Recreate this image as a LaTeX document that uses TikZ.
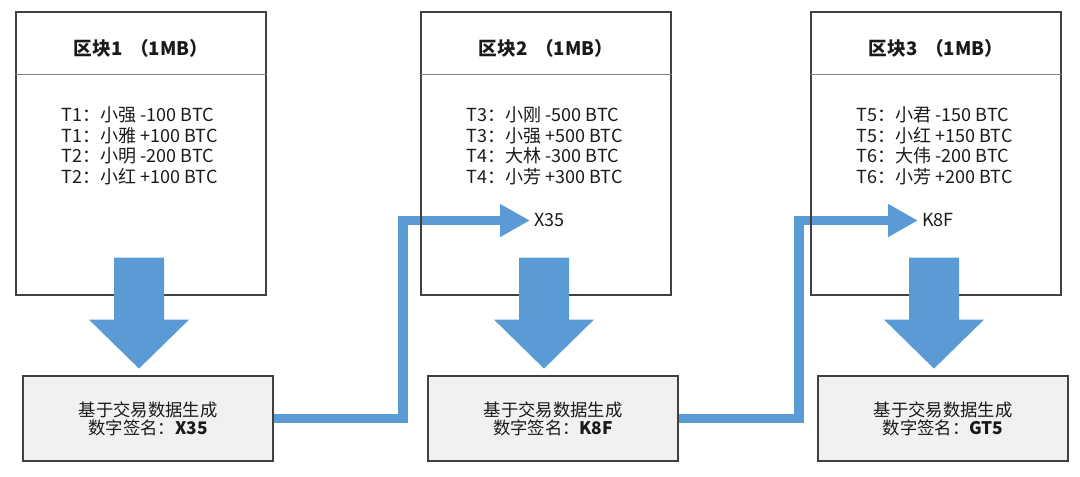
\documentclass[tikz,border=0pt]{standalone}
\usepackage{fontspec}
\setmainfont{Noto Sans CJK SC}
\usetikzlibrary{arrows.meta,calc}

\definecolor{arrblue}{HTML}{5B9BD5}
\definecolor{boxline}{HTML}{404040}
\definecolor{sepline}{HTML}{7F7F7F}
\definecolor{sigfill}{HTML}{F1F1F3}
\definecolor{txt}{HTML}{1A1A1A}

\pgfdeclarelayer{bg}
\pgfsetlayers{bg,main}

\tikzset{
  blkbox/.style={draw=boxline,line width=0.9pt,minimum width=187.5pt,minimum height=212.25pt,inner sep=0pt},
  sigbox/.style={draw=boxline,fill=sigfill,line width=0.9pt,minimum width=187.5pt,minimum height=63.75pt,
    inner sep=0pt,align=center,text=txt,font=\fontsize{13}{13.5}\selectfont},
  title/.style={text=txt,font=\fontsize{14}{16}\selectfont\bfseries},
  txlist/.style={anchor=west,align=left,text=txt,inner sep=0pt,font=\fontsize{13.5}{15.4}\selectfont},
  lab/.style={anchor=west,inner sep=3pt,text=txt,font=\fontsize{13.5}{15}\selectfont},
  link/.style={draw=arrblue,line width=7.2pt,line join=miter,-{Triangle[length=22.5pt,width=23.25pt]}},
  bigarr/.style={fill=arrblue}
}

\begin{document}
\begin{tikzpicture}[x=0.75pt,y=-0.75pt]
  \useasboundingbox (0,0) rectangle (1080,476);
  % blocks
  \node[blkbox] (blk1) at (141,153.5) {};
  \node[blkbox] (blk2) at (546,153.5) {};
  \node[blkbox] (blk3) at (936,153.5) {};
  \foreach \i in {1,2,3}
    \draw[sepline,line width=1.3pt] ($(blk\i.north west)+(0,63)$)--($(blk\i.north east)+(0,63)$);
  \node[title] (ttl1) at ($(blk1.north)+(0,37)$) {区块1 \,（1MB）};
  \node[title] (ttl2) at ($(blk2.north)+(0,37)$) {区块2 \,（1MB）};
  \node[title] (ttl3) at ($(blk3.north)+(0,37)$) {区块3 \,（1MB）};
  \node[txlist] (tx1) at ($(blk1.west)+(46,-7.5)$)
    {T1：小强 -100 BTC\\T1：小雅 +100 BTC\\T2：小明 -200 BTC\\T2：小红 +100 BTC};
  \node[txlist] (tx2) at ($(blk2.west)+(46,-7.5)$)
    {T3：小刚 -500 BTC\\T3：小强 +500 BTC\\T4：大林 -300 BTC\\T4：小芳 +300 BTC};
  \node[txlist] (tx3) at ($(blk3.west)+(46,-7.5)$)
    {T5：小君 -150 BTC\\T5：小红 +150 BTC\\T6：大伟 -200 BTC\\T6：小芳 +200 BTC};
  % signatures
  \node[sigbox] (sig1) at (148,418.5) {基于交易数据生成\\数字签名：\textbf{X35}};
  \node[sigbox] (sig2) at (553,418.5) {基于交易数据生成\\数字签名：\textbf{K8F}};
  \node[sigbox] (sig3) at (943,418.5) {基于交易数据生成\\数字签名：\textbf{GT5}};
  \node[lab] (lab2) at (530,220.5) {X35};
  \node[lab] (lab3) at (918,220.5) {K8F};
  \coordinate (turn2) at (403,220.5);
  \coordinate (turn3) at (799,220.5);
  \begin{pgfonlayer}{bg}
    \draw[link] (sig1.east) -| (turn2) -- (lab2.west);
    \draw[link] (sig2.east) -| (turn3) -- (lab3.west);
  \end{pgfonlayer}
  % big arrows
  \foreach \i in {1,2,3}
    \fill[bigarr] ($(blk\i.south)+(-27,-38)$) -- ++(50,0) -- ++(0,62) -- ++(25,0)
      -- ++(-50,49) -- ++(-50,-49) -- ++(25,0) -- cycle;
\end{tikzpicture}
\end{document}
